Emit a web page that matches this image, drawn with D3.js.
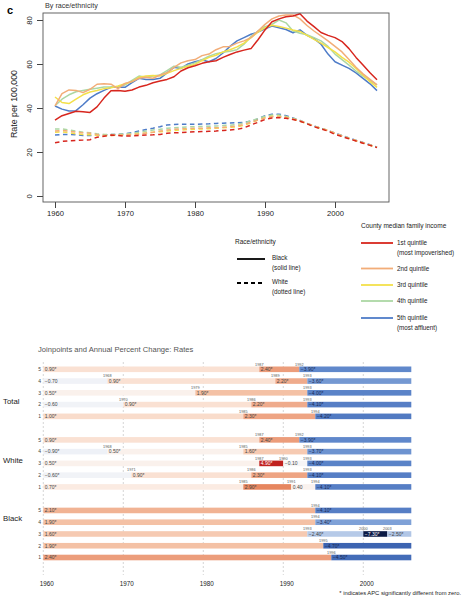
<!DOCTYPE html>
<html>
<head>
<meta charset="utf-8">
<script src="https://cdn.jsdelivr.net/npm/d3@7"></script>
<style>
body{margin:0;background:#fff;}
svg{display:block;font-family:"Liberation Sans",Arial,Helvetica,sans-serif;}
</style>
</head>
<body>
<svg id="chart" width="462" height="599"></svg>
<script>
// ---------------- DATA ----------------
const years = d3.range(1960, 2007);
const quintileNames = ["1st quintile", "2nd quintile", "3rd quintile", "4th quintile", "5th quintile"];
const quintileSub = ["(most impoverished)", "", "", "", "(most affluent)"];
const quintileColors = ["#d7261e", "#f2ad78", "#f3e04a", "#acd7a4", "#4e7cc8"];

// Black (solid lines), rate per 100,000 by quintile
const blackQ1 = [34.5,36.5,37.5,38.5,38.3,38.0,40.5,44.5,47.8,48.0,47.6,48.2,49.5,50.3,51.5,52.3,53.0,54.2,56.8,58.3,59.2,60.3,61.0,61.5,63.0,64.3,65.5,66.3,67.0,71.0,75.5,79.2,80.5,81.5,81.8,82.8,79.5,77.0,74.3,73.0,72.0,70.2,67.0,63.0,59.5,56.0,52.8];
const blackQ2 = [41.0,46.5,48.2,48.0,47.0,48.5,50.8,51.0,50.8,48.8,51.2,52.0,53.5,54.0,53.5,55.0,56.0,58.5,60.5,61.5,62.0,63.8,64.5,66.5,67.8,68.0,69.5,70.5,72.0,75.0,78.0,80.5,81.8,82.3,82.3,80.5,77.5,75.0,72.8,70.5,68.0,65.5,62.0,58.5,55.5,53.0,50.5];
const blackQ3 = [45.0,42.5,42.0,44.0,46.0,47.3,48.0,48.8,49.2,50.0,51.0,52.0,54.0,54.5,54.8,54.5,55.8,57.0,58.0,59.0,59.8,61.5,63.0,64.0,65.5,66.5,67.8,69.5,72.0,74.5,76.5,77.6,77.0,76.3,75.5,74.8,73.0,71.2,69.5,67.5,65.5,63.0,60.8,58.0,55.0,52.0,49.4];
const blackQ4 = [41.0,44.0,46.0,47.4,48.0,48.5,49.0,49.5,49.5,49.8,50.5,52.5,54.5,54.0,54.5,55.0,57.0,59.0,58.5,59.5,60.5,62.0,63.5,64.7,65.3,65.8,66.5,69.0,72.5,75.0,77.0,78.0,80.0,78.7,75.0,74.0,73.3,72.0,70.5,68.0,64.5,62.0,59.5,56.8,54.5,52.5,50.5];
const blackQ5 = [40.9,39.5,38.6,38.8,41.5,44.5,46.5,48.0,49.4,49.5,49.4,51.5,53.5,53.0,53.0,53.5,56.0,58.5,58.0,60.0,61.0,61.8,61.0,62.5,65.0,68.0,70.5,72.0,73.5,74.5,76.0,77.3,76.5,75.7,74.2,75.5,73.0,71.5,69.0,64.5,61.0,59.5,58.0,56.0,53.5,51.0,47.9];

// White (dashed lines)
const whiteQ1 = [24.2,24.8,25.1,25.3,25.4,25.6,26.7,27.2,27.7,27.5,27.2,27.3,27.5,27.7,27.8,28.0,28.5,28.7,28.8,29.0,29.2,29.3,29.4,29.5,29.8,30.0,30.3,31.0,32.3,33.5,34.8,35.5,35.6,35.3,34.8,34.0,32.8,31.5,30.5,29.5,28.0,27.0,26.0,25.0,24.0,23.0,22.0];
const whiteQ2 = [29.5,29.8,29.5,29.0,28.8,28.5,28.0,27.5,27.5,27.6,27.8,28.0,28.2,28.6,29.0,29.5,30.0,30.3,30.5,30.6,30.8,30.8,31.0,31.0,31.2,31.5,31.8,32.5,33.5,34.5,35.5,36.0,36.0,35.7,35.0,34.2,33.0,31.8,30.8,29.8,28.5,27.3,26.2,25.2,24.2,23.2,22.2];
const whiteQ3 = [29.0,29.2,28.8,28.3,28.0,27.8,27.6,27.4,27.5,27.6,27.8,28.0,28.3,28.6,29.0,29.2,29.5,29.8,30.0,30.2,30.3,30.5,30.6,30.8,31.0,31.2,31.5,32.2,33.3,34.5,35.6,36.2,36.2,35.8,35.0,34.0,32.8,31.7,30.7,29.7,28.4,27.3,26.2,25.1,24.1,23.1,22.1];
const whiteQ4 = [30.5,30.5,30.0,29.5,29.0,28.8,28.3,28.0,28.0,28.0,28.2,28.5,29.0,29.5,30.0,30.3,30.8,31.0,31.2,31.4,31.5,31.6,31.7,31.8,32.0,32.2,32.5,33.2,34.2,35.2,36.3,36.8,36.8,36.2,35.3,34.3,33.0,31.8,30.8,29.8,28.5,27.4,26.3,25.2,24.2,23.2,22.2];
const whiteQ5 = [27.7,28.0,28.0,27.8,27.5,27.5,27.6,27.8,28.0,28.0,28.3,28.8,29.5,30.2,30.8,31.5,32.3,32.5,32.6,32.6,32.6,32.7,32.8,33.0,33.1,33.2,33.3,33.5,34.0,35.0,36.5,37.2,37.2,36.5,35.5,34.3,33.0,31.8,30.8,29.8,28.6,27.5,26.4,25.3,24.3,23.3,22.3];

const xTicksTop = [1960, 1970, 1980, 1990, 2000];
const yTicksTop = [0, 20, 40, 60, 80];

// Joinpoint panel: for each row, joinpoint years and APC per segment
const apcGroups = ["Total", "White", "Black"];
const apcQuintiles = [5, 4, 3, 2, 1];
const totalJoinpoints = [[1987,1992],[1968,1989,1993],[1979,1993],[1970,1986,1993],[1985,1994]];
const totalApc = [["0.90*","2.40*","-3.90*"],["-0.70","0.90*","2.20*","-3.60*"],["0.50*","1.90*","-4.00*"],["-0.60","0.90*","2.20*","-4.10*"],["1.00*","2.30*","-4.20*"]];
const whiteJoinpoints = [[1987,1992],[1968,1985,1993],[1987,1990,1993],[1971,1986,1993],[1985,1991,1994]];
const whiteApc = [["0.90*","2.40*","-3.90*"],["-0.90*","0.50*","1.60*","-3.70*"],["0.50*","4.90*","-0.10","-4.00*"],["-0.60*","0.90*","2.30*","-4.10*"],["0.70*","2.90*","0.40","-4.10*"]];
const blackJoinpoints = [[1994],[1994],[1993,2000,2003],[1995],[1996]];
const blackApc = [["2.10*","-4.10*"],["1.90*","-3.40*"],["1.60*","-2.40*","-7.30*","-2.50*"],["1.90*","-4.70*"],["2.40*","-4.50*"]];
const apcStart = 1960, apcEnd = 2006;
const apcTicks = [1960, 1970, 1980, 1990, 2000];

// ---------------- DRAW ----------------
const svg = d3.select("#chart");
svg.append("rect").attr("width",462).attr("height",599).attr("fill","#fff");

// ---- Top panel ----
const x = d3.scaleLinear().domain([1960, 2000]).range([55, 335]);
const y = d3.scaleLinear().domain([0, 80]).range([196, 20]);

svg.append("text").attr("x",7).attr("y",14).attr("font-size",11).attr("font-weight","bold").text("c");
svg.append("text").attr("x",45).attr("y",8).attr("font-size",7.2).attr("fill","#333").text("By race/ethnicity");

const gx = svg.append("g").attr("transform","translate(0,202)")
  .call(d3.axisBottom(x).tickValues(xTicksTop).tickFormat(d3.format("d")).tickSize(6).tickPadding(3));
gx.select(".domain").remove();
gx.selectAll("line").attr("stroke","#444");
gx.selectAll("text").attr("font-size",7.6).attr("fill","#222").attr("font-family","Liberation Sans, Arial, sans-serif");

const gy = svg.append("g").attr("transform","translate(43,0)")
  .call(d3.axisLeft(y).tickValues(yTicksTop).tickSize(6));
gy.select(".domain").remove();
gy.selectAll("line").attr("stroke","#444");
gy.selectAll("text").attr("font-size",7.6).attr("fill","#222").attr("font-family","Liberation Sans, Arial, sans-serif")
  .attr("x",null).attr("dy",null).attr("text-anchor","middle")
  .attr("transform","translate(-11,0) rotate(-90)");

svg.append("text").attr("transform","translate(17,104) rotate(-90)").attr("text-anchor","middle")
  .attr("font-size",8.8).attr("fill","#222").text("Rate per 100,000");

const line = d3.line().x((d,i)=>x(years[i])).y(d=>y(d));
const blackSeries = [blackQ1, blackQ2, blackQ3, blackQ4, blackQ5];
const whiteSeries = [whiteQ1, whiteQ2, whiteQ3, whiteQ4, whiteQ5];
const order = [4,3,2,1,0];
const gl = svg.append("g");
order.forEach(i=>{
  gl.append("path").datum(whiteSeries[i]).attr("d",line).attr("fill","none")
    .attr("stroke",quintileColors[i]).attr("stroke-width",1.5).attr("stroke-dasharray","4.5,3.5");
});
order.forEach(i=>{
  gl.append("path").datum(blackSeries[i]).attr("d",line).attr("fill","none")
    .attr("stroke",quintileColors[i]).attr("stroke-width",1.5).attr("stroke-linejoin","round");
});
svg.append("rect").attr("x",43).attr("y",13).attr("width",346).attr("height",189)
  .attr("fill","none").attr("stroke","#555").attr("stroke-width",0.9);

// ---- Legends ----
const lg = svg.append("g").attr("font-size",6.3).attr("fill","#222");
lg.append("text").attr("x",235).attr("y",244).attr("font-size",6.5).text("Race/ethnicity");
lg.append("line").attr("x1",237).attr("x2",265).attr("y1",259).attr("y2",259).attr("stroke","#000").attr("stroke-width",1.8);
lg.append("text").attr("x",272).attr("y",260).text("Black");
lg.append("text").attr("x",272).attr("y",270).text("(solid line)");
lg.append("line").attr("x1",237).attr("x2",265).attr("y1",283).attr("y2",283).attr("stroke","#000").attr("stroke-width",1.8).attr("stroke-dasharray","4,3");
lg.append("text").attr("x",272).attr("y",284).text("White");
lg.append("text").attr("x",272).attr("y",294).text("(dotted line)");

lg.append("text").attr("x",361).attr("y",228).attr("font-size",6.5).text("County median family income");
const legY = [243, 268.5, 285, 301, 318];
quintileNames.forEach((n,i)=>{
  lg.append("line").attr("x1",361).attr("x2",393).attr("y1",legY[i]).attr("y2",legY[i])
    .attr("stroke",quintileColors[i]).attr("stroke-width",1.8);
  lg.append("text").attr("x",397).attr("y",legY[i]+2).text(n);
  if (quintileSub[i]) lg.append("text").attr("x",397).attr("y",legY[i]+12).text(quintileSub[i]);
});

// ---- Bottom panel: joinpoints ----
svg.append("text").attr("x",38).attr("y",352).attr("font-size",7.6).attr("fill","#555")
  .text("Joinpoints and Annual Percent Change: Rates");

const xb = d3.scaleLinear().domain([1960, 2000]).range([43.3, 363.3]);
const rowKeys = [];
apcGroups.forEach((g,gi)=>{
  apcQuintiles.forEach(q=>rowKeys.push(g+q));
  if (gi < apcGroups.length-1) rowKeys.push("gap"+gi);
});
const yb = d3.scalePoint().domain(rowKeys).range([369.3, 557.5]);

const color = d3.scaleLinear()
  .domain([-7.3,-4.6,-4.0,-3.5,-2.4,-0.9,0,0.6,1.0,1.9,2.4,2.9,4.9])
  .range(["#0b1a45","#3f67b5","#5a83c8","#7a9dd5","#b6cae8","#eef1f7","#f7f6f6","#fbf0ea","#f9dccb","#f4c1a5","#ec9d7b","#e6865f","#c0211f"])
  .clamp(true);

// gridlines
svg.append("g").selectAll("line").data(apcTicks).join("line")
  .attr("x1",d=>xb(d)).attr("x2",d=>xb(d)).attr("y1",362).attr("y2",575)
  .attr("stroke","#c4c4c4").attr("stroke-width",0.7).attr("stroke-dasharray","2,2");

const groupJP = {Total: totalJoinpoints, White: whiteJoinpoints, Black: blackJoinpoints};
const groupAPC = {Total: totalApc, White: whiteApc, Black: blackApc};
const barH = 5.6;
const gb = svg.append("g");
apcGroups.forEach(g=>{
  apcQuintiles.forEach((q,ri)=>{
    const jp = groupJP[g][ri], apc = groupAPC[g][ri];
    const bounds = [apcStart, ...jp, apcEnd];
    const cy = yb(g+q);
    const segs = apc.map((a,si)=>({a, v:parseFloat(a), s:bounds[si], e:bounds[si+1]}));
    gb.selectAll(null).data(segs).join("rect")
      .attr("x",d=>xb(d.s)).attr("width",d=>xb(d.e)-xb(d.s))
      .attr("y",cy-barH/2).attr("height",barH).attr("fill",d=>color(d.v));
    gb.selectAll(null).data(segs).join("text")
      .attr("x",d=>xb(d.s)+1.5).attr("y",cy+1.8).attr("font-size",5)
      .attr("fill",d=>Math.abs(d.v)>4.8 ? "#fff" : (d.v< -3 ? "#1a2a55" : "#444"))
      .text(d=>d.a.replace("-","\u2212"));
    gb.selectAll(null).data(jp).join("text")
      .attr("x",d=>xb(d)).attr("y",cy-barH/2-1).attr("text-anchor","middle")
      .attr("font-size",3.8).attr("fill","#555").text(d=>d);
    gb.append("text").attr("x",41).attr("y",cy+1.8).attr("text-anchor","end")
      .attr("font-size",5).attr("fill","#444").text(q);
  });
});
const groupLabelY = {Total: 404, White: 463, Black: 521};
apcGroups.forEach(g=>{
  svg.append("text").attr("x",3).attr("y",groupLabelY[g]).attr("font-size",7.8).attr("fill","#222").text(g);
});

svg.append("g").selectAll("text").data(apcTicks).join("text")
  .attr("x",d=>xb(d)+3.5).attr("y",585.5).attr("text-anchor","middle")
  .attr("font-size",6.3).attr("fill","#222").text(d=>d);

svg.append("text").attr("x",461).attr("y",595).attr("text-anchor","end")
  .attr("font-size",5.8).attr("fill","#222").text("* indicates APC significantly different from zero.");
</script>
</body>
</html>
